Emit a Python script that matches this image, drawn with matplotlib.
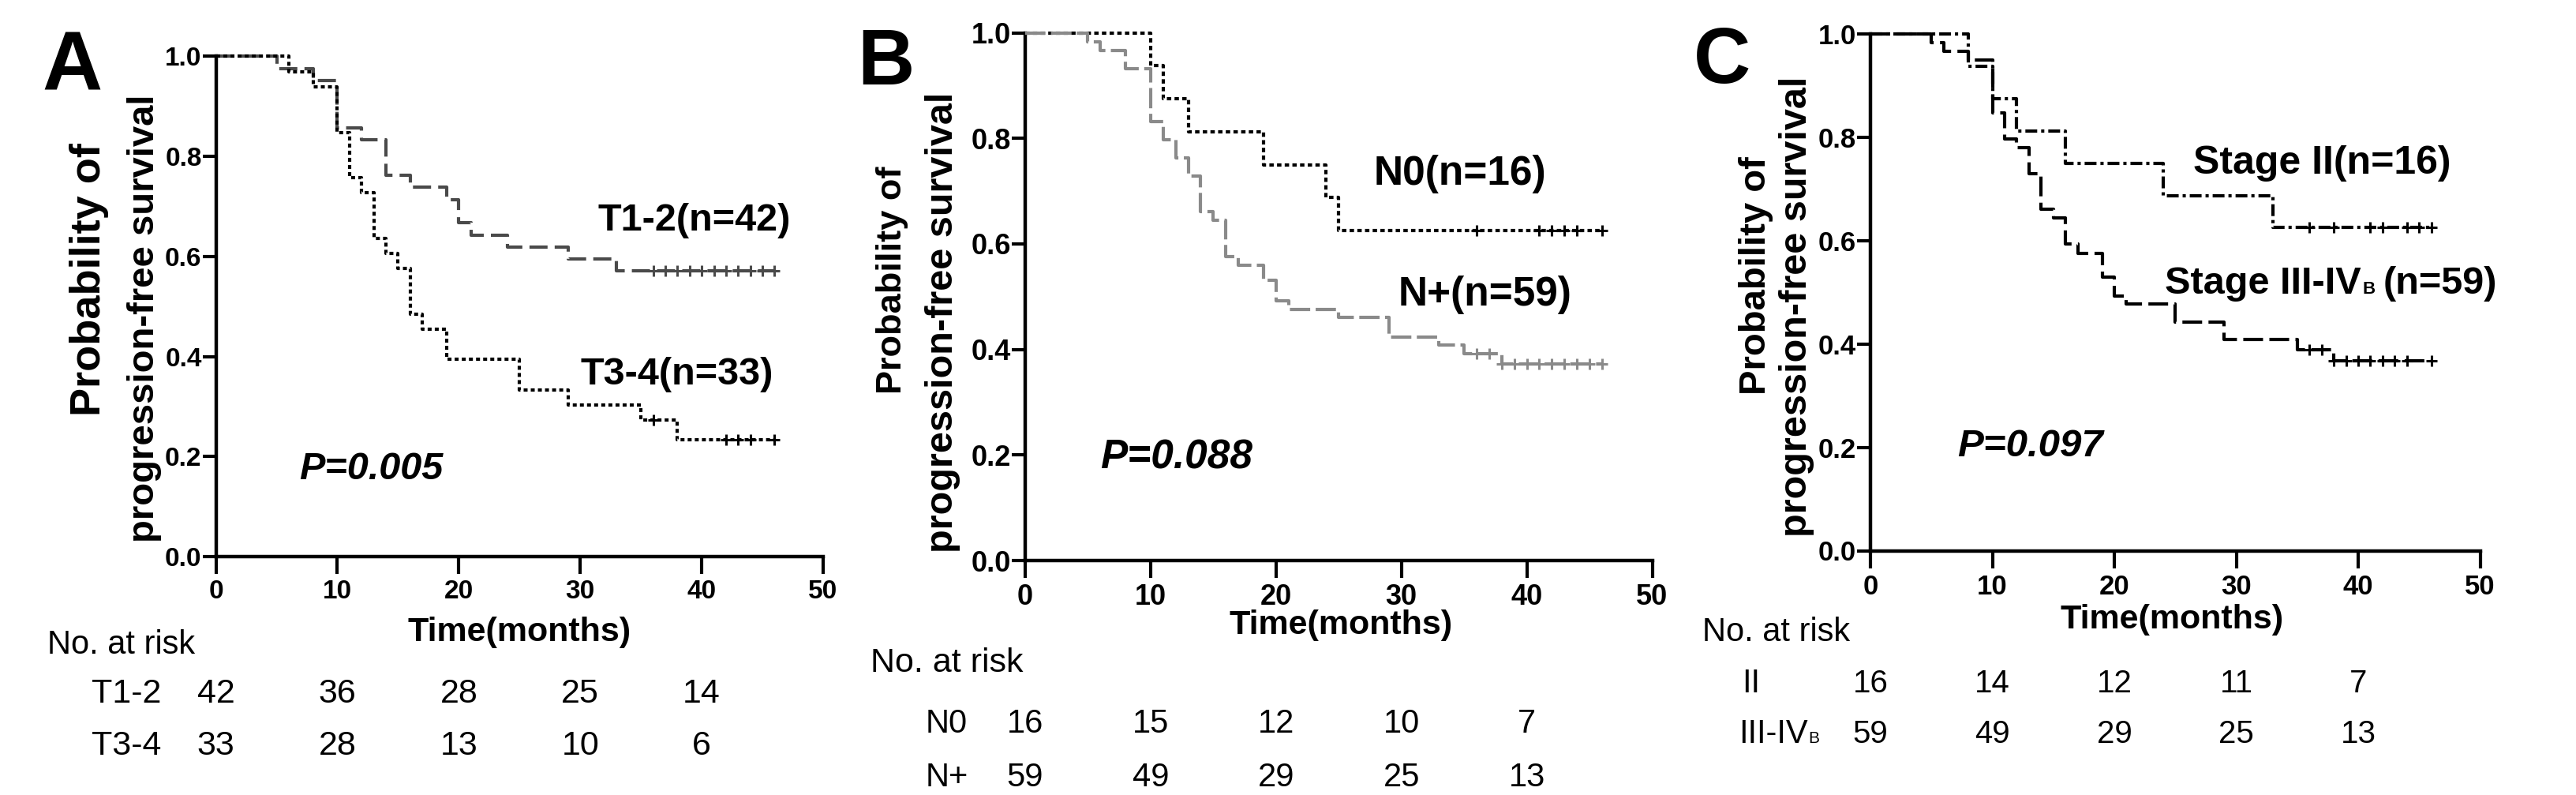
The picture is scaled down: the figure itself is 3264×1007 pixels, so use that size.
import numpy as np
import matplotlib
matplotlib.use("Agg")
import matplotlib.pyplot as plt
from matplotlib.transforms import blended_transform_factory

plt.rcParams['font.family'] = ['Liberation Sans', 'DejaVu Sans']
plt.rcParams['lines.scale_dashes'] = False

W, H = 3264, 1007

# ---------------- data ----------------
# Panel A : T stage
a_t12_times = [5, 8, 10, 12, 14, 16, 19, 20, 21, 24, 29, 33]
a_t12_surv = [0.976, 0.952, 0.857, 0.833, 0.762, 0.738, 0.714, 0.667, 0.643, 0.619, 0.595, 0.571]
a_t12_cens = [36, 37, 38, 39, 40, 41, 42, 43, 44, 45, 46]
a_t34_times = [6, 8, 10, 11, 12, 13, 14, 15, 16, 17, 19, 25, 29, 35, 38]
a_t34_surv = [0.970, 0.939, 0.848, 0.758, 0.727, 0.636, 0.606, 0.576, 0.485, 0.455,
              0.394, 0.333, 0.303, 0.273, 0.234]
a_t34_cens = [36, 42, 43, 44, 46]

# Panel B : N stage
b_n0_times = [10, 11, 13, 19, 24, 25]
b_n0_surv = [0.9375, 0.875, 0.8125, 0.75, 0.6875, 0.625]
b_n0_cens = [36, 41, 42, 43, 44, 46]
b_np_times = [5, 6, 8, 10, 11, 12, 13, 14, 15, 16, 17, 19, 20, 21, 25, 29, 33, 35, 38]
b_np_surv = [0.983, 0.966, 0.932, 0.831, 0.797, 0.763, 0.729, 0.661, 0.644, 0.576, 0.559,
             0.531, 0.492, 0.476, 0.460, 0.424, 0.409, 0.392, 0.372]
b_np_cens = [36, 37, 38, 39, 40, 41, 42, 43, 44, 45, 46]

# Panel C : clinical stage
c_ii_times = [8, 10, 12, 16, 24, 33]
c_ii_surv = [0.9375, 0.875, 0.8125, 0.75, 0.6875, 0.625]
c_ii_cens = [36, 38, 41, 42, 44, 45, 46]
c_iii_times = [5, 6, 8, 10, 11, 12, 13, 14, 15, 16, 17, 19, 20, 21, 25, 29, 35, 38]
c_iii_surv = [0.983, 0.966, 0.949, 0.847, 0.797, 0.780, 0.729, 0.661, 0.644, 0.593, 0.576,
              0.529, 0.493, 0.478, 0.442, 0.409, 0.389, 0.368]
c_iii_cens = [36, 37, 38, 39, 40, 41, 42, 43, 44, 46]

risk_times = [0, 10, 20, 30, 40]
a_risk_t12 = [42, 36, 28, 25, 14]
a_risk_t34 = [33, 28, 13, 10, 6]
b_risk_n0 = [16, 15, 12, 10, 7]
b_risk_np = [59, 49, 29, 25, 13]
c_risk_ii = [16, 14, 12, 11, 7]
c_risk_iii = [59, 49, 29, 25, 13]

x_ticks = [0, 10, 20, 30, 40, 50]
y_ticks = [0.0, 0.2, 0.4, 0.6, 0.8, 1.0]

# ---------------- figure ----------------
fig = plt.figure(figsize=(W / 100, H / 100), dpi=100)
renderer = fig.canvas.get_renderer()


def fx(px):
    return px / W


def fy(py):
    return 1 - py / H


def make_axes(x0, x50, y1, y0, tick_fs):
    ax = fig.add_axes([fx(x0), fy(y0), (x50 - x0) / W, (y0 - y1) / H])
    ax.set_xlim(0, 50)
    ax.set_ylim(0, 1)
    for s in ['top', 'right']:
        ax.spines[s].set_visible(False)
    for s in ['left', 'bottom']:
        ax.spines[s].set_linewidth(3.2)
    ax.set_xticks(x_ticks, [str(v) for v in x_ticks], fontweight='bold', fontsize=tick_fs)
    ax.set_yticks(y_ticks, ['%.1f' % v for v in y_ticks], fontweight='bold', fontsize=tick_fs)
    ax.tick_params(axis='x', length=16, width=3, pad=5)
    ax.tick_params(axis='y', length=12, width=3, pad=1)
    return ax


def km(ax, times, surv, cens, color, dashes):
    end = max(cens)
    t = [0] + list(times) + [end]
    s = [1.0] + list(surv) + [surv[-1]]
    ax.step(t, s, where='post', color=color, lw=3, linestyle=(0, dashes),
            dash_capstyle='butt', clip_on=False, zorder=3)
    idx = np.searchsorted(times, cens, side='right')
    cy = [1.0 if i == 0 else surv[i - 1] for i in idx]
    ax.plot(cens, cy, linestyle='none', marker='+', ms=10, mew=2.2, color=color,
            clip_on=False, zorder=4)


def ftext(px, py, s, fs, weight='bold', style='normal', ha='left'):
    return fig.text(fx(px), fy(py), s, fontsize=fs, fontweight=weight, fontstyle=style,
                    ha=ha, va='baseline')


def pieces(px, py, parts, weight='bold'):
    x = px
    for s, fs, gap in parts:
        t = ftext(x, py, s, fs, weight=weight)
        bb = t.get_window_extent(renderer)
        x += bb.width + gap


def ylabel(bx, cy, s, fs):
    fig.text(fx(bx), fy(cy), s, fontsize=fs, fontweight='bold', rotation=90,
             rotation_mode='anchor', ha='center', va='baseline')


def risk_row(ax, py, values, fs=30):
    tr = blended_transform_factory(ax.transData, fig.transFigure)
    for t, v in zip(risk_times, values):
        ax.text(t, fy(py), str(v), transform=tr, ha='center', va='baseline',
                fontsize=fs, clip_on=False)


DOT = (3.6, 2.9)
DOT_B = (4.0, 3.0)
DASH_A = (16.5, 6.5)
DASH_B = (18.5, 5.0)
DASH_C = (18.0, 5.8)
DASHDOT = (10.8, 3.6, 2.9, 3.6)

# ---------------- Panel A ----------------
axA = make_axes(273.6, 1043, 71.5, 705, 24)
km(axA, a_t12_times, a_t12_surv, a_t12_cens, '#4a4a4a', DASH_A)
km(axA, a_t34_times, a_t34_surv, a_t34_cens, 'black', DOT)
ftext(53, 114, 'A', 76)
ftext(758, 292, 'T1-2(n=42)', 35)
ftext(736, 486.7, 'T3-4(n=33)', 35)
ftext(379, 607, 'P=0.005', 35, style='italic')
ftext(658, 811.7, 'Time(months)', 31, ha='center')
ylabel(127.5, 354, 'Probability of', 39)
ylabel(195, 403, 'progression-free survival', 34)
ftext(60, 828.5, 'No. at risk', 30, weight='normal')
ftext(116, 890, 'T1-2', 31, weight='normal')
ftext(116, 956, 'T3-4', 31, weight='normal')
risk_row(axA, 890, a_risk_t12, 31)
risk_row(axA, 956, a_risk_t34, 31)

# ---------------- Panel B ----------------
axB = make_axes(1299, 2093.5, 41.5, 710, 26)
km(axB, b_n0_times, b_n0_surv, b_n0_cens, 'black', DOT_B)
km(axB, b_np_times, b_np_surv, b_np_cens, '#8a8a8a', DASH_B)
ftext(1086, 107, 'B', 72)
ftext(1741, 234.4, 'N0(n=16)', 37)
ftext(1772, 386.7, 'N+(n=59)', 37)
ftext(1394, 594, 'P=0.088', 37, style='italic')
ftext(1699, 803, 'Time(months)', 31, ha='center')
ylabel(1142, 355, 'Probability of', 32.5)
ylabel(1207, 408.5, 'progression-free survival', 35)
ftext(1103, 851, 'No. at risk', 31, weight='normal')
ftext(1173, 928, 'N0', 30, weight='normal')
ftext(1173, 995.5, 'N+', 30, weight='normal')
risk_row(axB, 928, b_risk_n0)
risk_row(axB, 995.5, b_risk_np)

# ---------------- Panel C ----------------
axC = make_axes(2370, 3142.5, 43, 697.5, 25)
km(axC, c_ii_times, c_ii_surv, c_ii_cens, 'black', DASHDOT)
km(axC, c_iii_times, c_iii_surv, c_iii_cens, 'black', DASH_C)
ftext(2146, 105, 'C', 72)
ftext(2779, 220, 'Stage II(n=16)', 36)
pieces(2743, 371.7, [('Stage III-IV', 35, 2), ('B', 16, 10), ('(n=59)', 35, 0)])
ftext(2480, 578, 'P=0.097', 35.5, style='italic')
ftext(2752, 796, 'Time(months)', 31, ha='center')
ylabel(2237, 349, 'Probability of', 34)
ylabel(2289, 388.5, 'progression-free survival', 35)
ftext(2157, 812.5, 'No. at risk', 30, weight='normal')
ftext(2207, 876.7, 'II', 30, weight='normal')
pieces(2203, 941, [('III-IV', 30, 1), ('B', 15, 6)], weight='normal')
risk_row(axC, 876.7, c_risk_ii, 29)
risk_row(axC, 941, c_risk_iii, 29)

fig.savefig('out.png', dpi=100)
